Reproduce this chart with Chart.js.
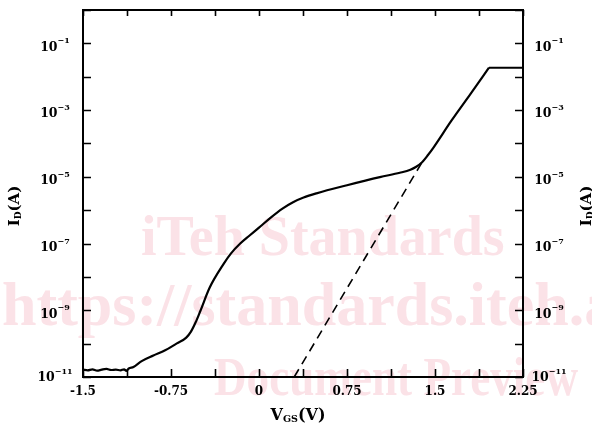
<!DOCTYPE html>
<html>
<head>
<meta charset="utf-8">
<script src="https://cdn.jsdelivr.net/npm/chart.js@4.4.1/dist/chart.umd.min.js"></script>
<style>
  html, body { margin: 0; padding: 0; background: #fff; }
  canvas { display: block; }
</style>
</head>
<body>
<canvas id="chart" width="592" height="430"></canvas>
<script>
// measured transfer curve, VGS in volts, ID in amps
const vgsSolid = [-1.50, -1.46, -1.42, -1.38, -1.34, -1.30, -1.26, -1.22, -1.18, -1.15, -1.13, -1.11,
  -1.07, -1.00, -0.90, -0.80, -0.70, -0.62, -0.58, -0.54, -0.50, -0.42, -0.30, -0.24, -0.16, -0.08,
  0.00, 0.10, 0.20, 0.29, 0.38, 0.49, 0.75, 1.03, 1.20, 1.29, 1.34, 1.39, 1.44, 1.49, 1.64, 1.80, 1.96];
const idSolid = [1.66e-11, 1.58e-11, 1.70e-11, 1.55e-11, 1.66e-11, 1.74e-11, 1.62e-11, 1.66e-11, 1.58e-11, 1.70e-11, 1.52e-11, 1.80e-11,
  2.0e-11, 3.0e-11, 4.4e-11, 6.3e-11, 1.02e-10, 1.51e-10, 2.29e-10, 4.37e-10, 9.5e-10, 4.8e-9, 2.5e-8, 5.0e-8, 1.0e-7, 1.74e-7,
  3.0e-7, 6.0e-7, 1.12e-6, 1.74e-6, 2.4e-6, 3.2e-6, 5.6e-6, 9.8e-6, 1.32e-5, 1.62e-5, 2.0e-5, 2.75e-5, 4.5e-5, 7.8e-5, 4.8e-4, 2.95e-3, 1.86e-2];

// saturation plateau
const vgsSat = [1.96, 2.25];
const idSat = [1.86e-2, 1.86e-2];

// extrapolated tangent (dashed)
const vgsDash = [0.30, 1.39];
const idDash = [1e-11, 2.75e-5];

const xTickStep = 0.375;
const xLabelVals = [-1.5, -0.75, 0, 0.75, 1.5, 2.25];
const xLabelText = ['-1.5', '-0.75', '0', '0.75', '1.5', '2.25'];
const yDecades = [-11, -10, -9, -8, -7, -6, -5, -4, -3, -2, -1, 0];
const yLabelExps = [-11, -9, -7, -5, -3, -1];

const SERIF = '"DejaVu Serif", serif';
const MARK = '"Liberation Serif", "Times New Roman", serif';

function toPoints(xs, ys) {
  return xs.map((x, i) => ({ x: x, y: ys[i] }));
}

// draws runs of text [text, fontSize, dy] centred on (cx, cy)
function drawRuns(ctx, runs, cx, cy) {
  let total = 0;
  runs.forEach(r => {
    ctx.font = 'bold ' + r[1] + 'px ' + SERIF;
    total += ctx.measureText(r[0]).width;
  });
  let x = cx - total / 2;
  ctx.textBaseline = 'middle';
  ctx.textAlign = 'left';
  runs.forEach(r => {
    ctx.font = 'bold ' + r[1] + 'px ' + SERIF;
    ctx.fillText(r[0], x, cy + r[2]);
    x += ctx.measureText(r[0]).width;
  });
}

const watermark = {
  id: 'watermark',
  beforeDraw(chart) {
    const ctx = chart.ctx;
    ctx.save();
    ctx.fillStyle = '#fbe2e7';
    ctx.textBaseline = 'alphabetic';
    ctx.font = 'bold 56px ' + MARK;
    ctx.fillText('iTeh Standards', 141, 255, 368);
    ctx.font = 'bold 62px ' + MARK;
    ctx.fillText('https://standards.iteh.ai', 2, 325);
    ctx.font = 'bold 54px ' + MARK;
    ctx.fillText('Document Preview', 214, 395, 364);
    ctx.restore();
  }
};

const frameDecor = {
  id: 'frameDecor',
  afterDraw(chart) {
    const ctx = chart.ctx;
    const xs = chart.scales.x;
    const ys = chart.scales.y;
    const a = chart.chartArea;
    ctx.save();
    ctx.strokeStyle = '#000';
    ctx.fillStyle = '#000';
    ctx.lineWidth = 1.6;
    ctx.beginPath();
    xs.ticks.forEach(t => {
      const px = Math.round(xs.getPixelForValue(t.value)) + 0.5;
      ctx.moveTo(px, a.bottom); ctx.lineTo(px, a.bottom - 8);
      ctx.moveTo(px, a.top); ctx.lineTo(px, a.top + 6);
    });
    yDecades.forEach(e => {
      const py = Math.round(ys.getPixelForValue(Math.pow(10, e))) + 0.5;
      ctx.moveTo(a.left, py); ctx.lineTo(a.left + 8, py);
      ctx.moveTo(a.right, py); ctx.lineTo(a.right - 8, py);
    });
    ctx.stroke();

    // y tick labels with superscripts
    yLabelExps.forEach(e => {
      const py = ys.getPixelForValue(Math.pow(10, e)) + (e === yDecades[0] ? 1 : 4);
      const runs = [['10', 12.5, 0], ['\u2212' + Math.abs(e), 8, -6]];
      drawRuns(ctx, runs, a.left - 28, py);
      drawRuns(ctx, runs, a.right + 26, py);
    });

    // axis titles
    const idRuns = [['I', 15, 0], ['D', 9, 4], ['(A)', 15, 0]];
    [[15, 206], [587, 206]].forEach(p => {
      ctx.save();
      ctx.translate(p[0], p[1]);
      ctx.rotate(-Math.PI / 2);
      drawRuns(ctx, idRuns, 0, 0);
      ctx.restore();
    });
    drawRuns(ctx, [['V', 16, 0], ['GS', 9.5, 4], ['(V)', 16, 0]], 298, 416);
    ctx.restore();
  }
};

const xCommon = {
  type: 'linear',
  min: -1.5,
  max: 2.25,
  grid: { display: false, drawTicks: false },
  border: { display: true, color: '#000', width: 2 }
};

const lineStyle = {
  borderColor: '#000',
  borderWidth: 2.2,
  pointRadius: 0,
  fill: false
};

new Chart(document.getElementById('chart'), {
  type: 'line',
  data: {
    datasets: [
      Object.assign({ data: toPoints(vgsSolid, idSolid), cubicInterpolationMode: 'monotone' }, lineStyle),
      Object.assign({ data: toPoints(vgsSat, idSat) }, lineStyle),
      {
        data: toPoints(vgsDash, idDash),
        borderColor: '#000',
        borderWidth: 1.6,
        borderDash: [9, 6],
        pointRadius: 0,
        fill: false
      }
    ]
  },
  options: {
    responsive: false,
    animation: false,
    devicePixelRatio: 1,
    layout: { padding: 0 },
    plugins: { legend: { display: false }, tooltip: { enabled: false } },
    scales: {
      x: Object.assign({}, xCommon, {
        position: 'bottom',
        ticks: {
          stepSize: xTickStep,
          autoSkip: false,
          maxRotation: 0,
          padding: 8,
          color: '#000',
          font: { family: SERIF, size: 12, weight: 'bold' },
          callback: v => {
            const i = xLabelVals.indexOf(v);
            return i >= 0 ? xLabelText[i] : '';
          }
        },
        afterFit: s => { s.height = 53; }
      }),
      x2: Object.assign({}, xCommon, {
        position: 'top',
        ticks: { display: false },
        afterFit: s => { s.height = 10; }
      }),
      y: {
        type: 'logarithmic',
        position: 'left',
        min: 1e-11,
        max: 1,
        grid: { display: false, drawTicks: false },
        border: { display: true, color: '#000', width: 2 },
        ticks: { display: false },
        afterBuildTicks: s => { s.ticks = yDecades.map(e => ({ value: Math.pow(10, e) })); },
        afterFit: s => { s.width = 83; }
      },
      y2: {
        type: 'logarithmic',
        position: 'right',
        min: 1e-11,
        max: 1,
        grid: { display: false, drawTicks: false },
        border: { display: true, color: '#000', width: 2 },
        ticks: { display: false },
        afterBuildTicks: s => { s.ticks = yDecades.map(e => ({ value: Math.pow(10, e) })); },
        afterFit: s => { s.width = 69; }
      }
    }
  },
  plugins: [watermark, frameDecor]
});
</script>
</body>
</html>
